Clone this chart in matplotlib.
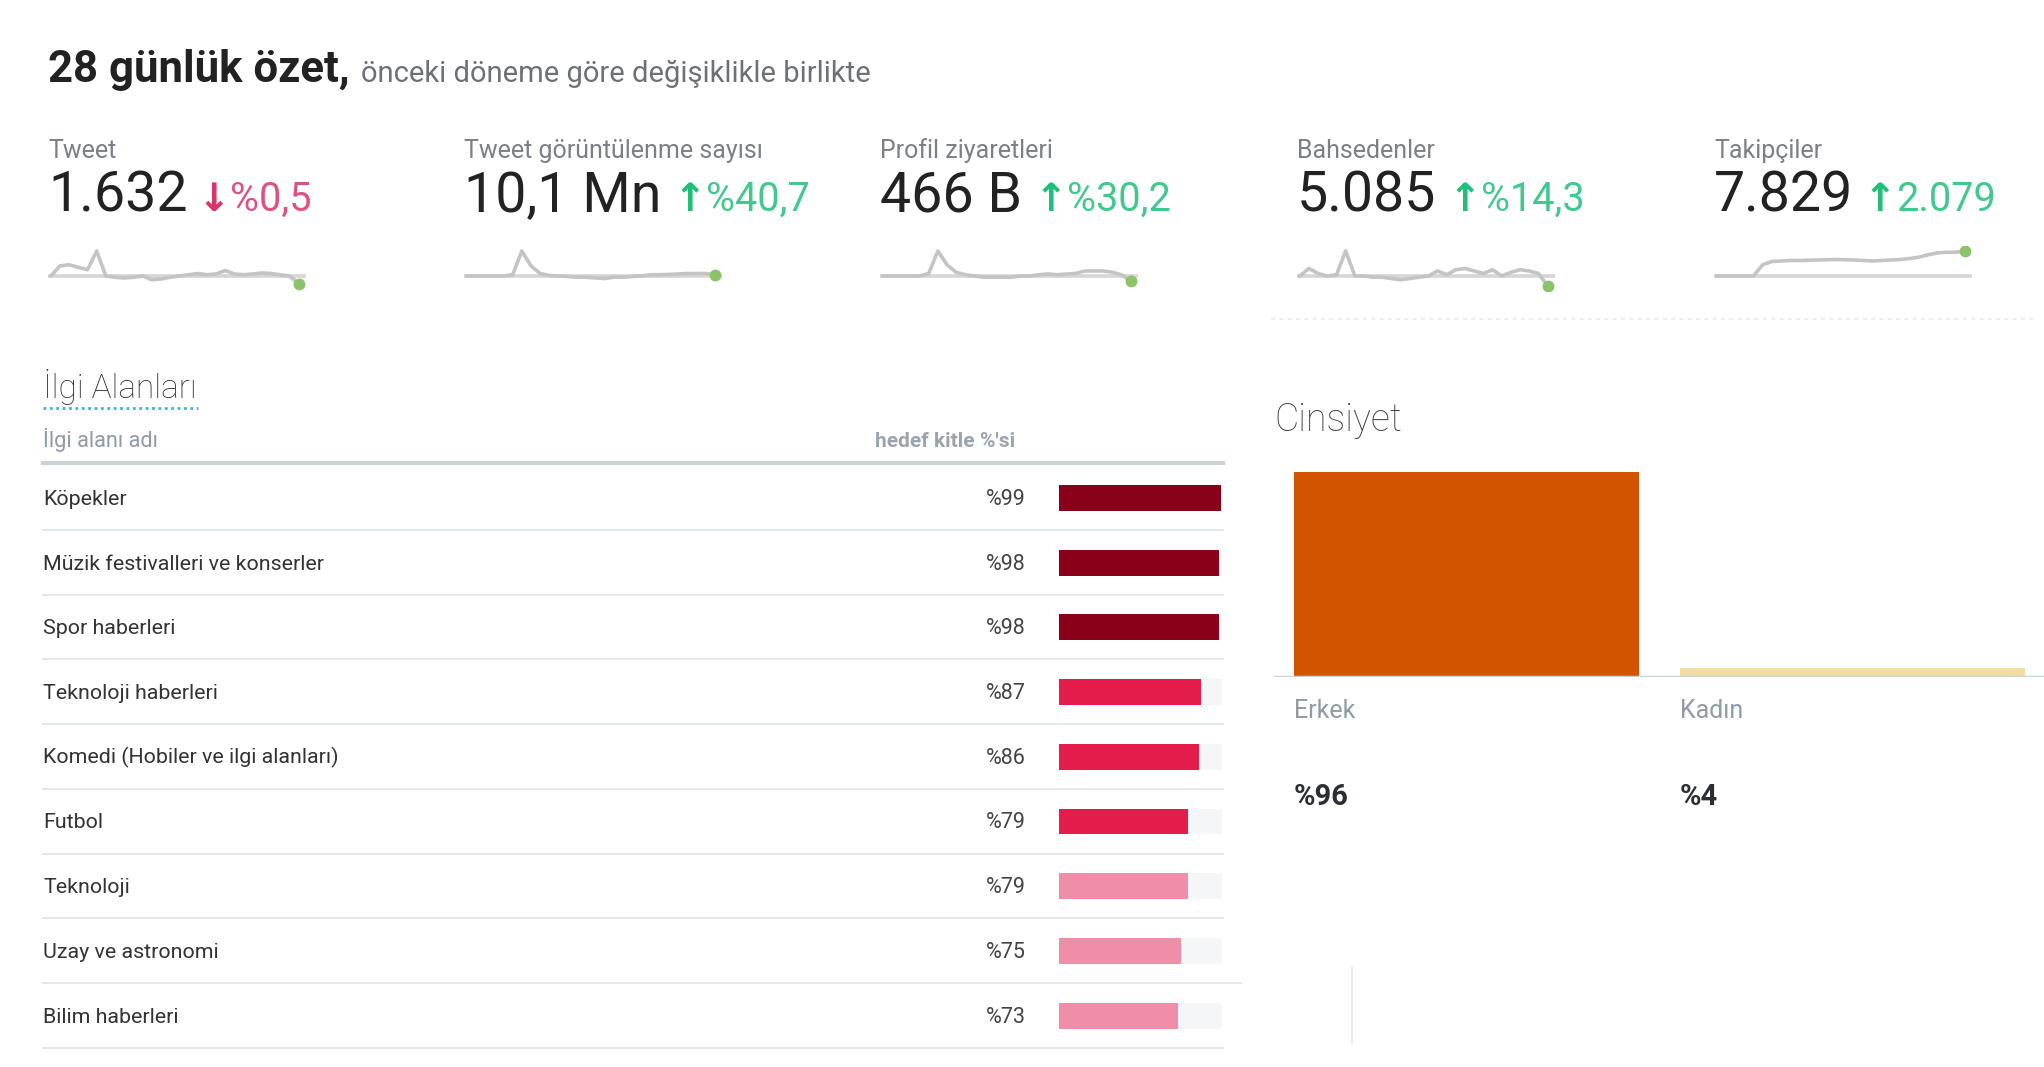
import matplotlib
matplotlib.use("Agg")
from matplotlib import pyplot as plt

# ---- data ----
kpi_labels = ["Tweet", "Tweet görüntülenme sayısı", "Profil ziyaretleri", "Bahsedenler", "Takipçiler"]
kpi_values = ["1.632", "10,1 Mn", "466 B", "5.085", "7.829"]
kpi_deltas = ["%0,5", "%40,7", "%30,2", "%14,3", "2.079"]
kpi_up = [False, True, True, True, True]

spark_tweet = [0.0, 0.4, 0.45, 0.35, 0.25, 1.0, 0.0, -0.05, -0.08, -0.05, 0.0, -0.15, -0.12, -0.05,
               0.0, 0.05, 0.1, 0.05, 0.08, 0.22, 0.08, 0.05, 0.08, 0.12, 0.1, 0.05, 0.0, -0.3]
spark_views = [0.0, 0.0, 0.0, 0.0, 0.0, 0.05, 1.0, 0.4, 0.1, 0.02, 0.0, -0.02, -0.05, -0.05,
               -0.08, -0.1, -0.05, -0.05, -0.02, 0.0, 0.05, 0.05, 0.06, 0.08, 0.1, 0.1, 0.1, 0.05]
spark_profile = [0.0, 0.0, 0.0, 0.0, 0.0, 0.1, 1.0, 0.45, 0.15, 0.05, 0.0, -0.05, -0.05, -0.05,
                 -0.05, 0.0, 0.0, 0.05, 0.08, 0.05, 0.08, 0.1, 0.2, 0.2, 0.2, 0.15, 0.05, -0.2]
spark_mentions = [0.0, 0.3, 0.1, 0.0, 0.05, 1.0, 0.0, 0.0, -0.05, -0.05, -0.1, -0.15, -0.1, -0.05,
                  0.0, 0.2, 0.05, 0.25, 0.3, 0.2, 0.1, 0.25, 0.0, 0.15, 0.25, 0.2, 0.1, -0.4]
spark_followers = [0.0, 0.0, 0.0, 0.0, 0.0, 0.45, 0.58, 0.6, 0.62, 0.62, 0.63, 0.64, 0.65, 0.66,
                   0.65, 0.64, 0.62, 0.6, 0.62, 0.64, 0.66, 0.7, 0.75, 0.85, 0.92, 0.95, 0.95, 1.0]
sparks = [spark_tweet, spark_views, spark_profile, spark_mentions, spark_followers]

interests = ["Köpekler", "Müzik festivalleri ve konserler", "Spor haberleri", "Teknoloji haberleri",
             "Komedi (Hobiler ve ilgi alanları)", "Futbol", "Teknoloji", "Uzay ve astronomi", "Bilim haberleri"]
interest_pct = [99, 98, 98, 87, 86, 79, 79, 75, 73]
interest_colors = ["#8a0018", "#8a0018", "#8a0018", "#e31c4c", "#e31c4c", "#e31c4c",
                   "#f08da8", "#f08da8", "#f08da8"]

genders = ["Erkek", "Kadın"]
gender_pct = [96, 4]
gender_colors = ["#d35400", "#f3dca0"]

# ---- layout (pixel based) ----
W, H = 2044, 1067
FONT = ["Roboto", "DejaVu Sans"]
plt.rcParams["font.family"] = FONT

fig = plt.figure(figsize=(W / 100, H / 100), dpi=100)
fig.patch.set_facecolor("white")


def px_axes(x0, y0, x1, y1):
    return fig.add_axes([x0 / W, 1 - y1 / H, (x1 - x0) / W, (y1 - y0) / H])


bg = px_axes(0, 0, W, H)
bg.set_xlim(0, W)
bg.set_ylim(H, 0)
bg.axis("off")

# header
bg.text(48, 82, "28 günlük özet,", fontsize=31.5, fontweight="bold", color="#222222", va="baseline")
bg.text(361, 82, "önceki döneme göre değişiklikle birlikte", fontsize=21, color="#6b7177", va="baseline")

# kpis
kpi_x = [48, 464, 880, 1297, 1714]
delta_x = [202, 678, 1039, 1453, 1868]
for i in range(5):
    x = kpi_x[i]
    bg.text(x, 158, kpi_labels[i], fontsize=18, color="#7b8087", va="baseline")
    bg.text(x, 212, kpi_values[i], fontsize=40, color="#222222", va="baseline")
    col = "#1fbf7a" if kpi_up[i] else "#d8346a"
    arrow = "↑" if kpi_up[i] else "↓"
    bg.text(delta_x[i] - 4, 211, arrow, fontsize=28, color=col, fontweight="bold",
            va="baseline", family=["DejaVu Sans"])
    bg.text(delta_x[i] + 28, 211, kpi_deltas[i], fontsize=28.5, color=col, alpha=0.85, va="baseline")

    sp = px_axes(x, 246, x + 258, 291)
    n = len(sparks[i])
    sp.axhline(0, color="#d6d6d6", lw=2.6, zorder=1)
    sp.plot(range(n), sparks[i], color="#c4c4c4", lw=2.6, zorder=2)
    sp.plot([n - 1], [sparks[i][-1]], "o", color="#8cc26a", ms=7.5, zorder=3)
    sp.set_xlim(-0.3, n - 0.2)
    sp.set_ylim(-0.6, 1.2)
    sp.axis("off")

bg.plot([1271, 2034], [319, 319], color="#eeeeee", lw=1.5, ls=(0, (2, 2)))

# interests table
bg.text(43, 398, "İlgi Alanları", fontsize=24, fontweight="light", color="#333333", va="baseline")
bg.plot([43, 198], [408, 408], color="#4aaed6", lw=2, ls=(0, (1, 1.3)))
bg.text(43, 447, "İlgi alanı adı", fontsize=15.7, color="#8f9ba5", va="baseline")
bg.text(875, 447, "hedef kitle %'si", fontsize=15, fontweight="bold", color="#9aa4ad", va="baseline")
bg.plot([43, 1223], [463, 463], color="#ccd3d8", lw=3)

row_y0 = 498
row_step = 64.7
for i, name in enumerate(interests):
    cy = row_y0 + i * row_step
    bg.text(43, cy + 7, name, fontsize=15.4, color="#333333", va="baseline")
    bg.text(1026, cy + 7, "%" + str(interest_pct[i]), fontsize=15.5, color="#444444",
            ha="right", va="baseline")
    sep_right = 1241 if i == 7 else 1223
    bg.plot([43, sep_right], [cy + 32, cy + 32], color="#e4e8eb", lw=1.5)

bars = px_axes(1059, row_y0 - row_step / 2, 1223, row_y0 + 8.5 * row_step)
ypos = list(range(len(interests)))
bars.barh(ypos, [100] * len(ypos), height=0.4, color="#f4f6f8")
bars.barh(ypos, interest_pct, height=0.4, color=interest_colors)
bars.set_xlim(0, 100.5)
bars.set_ylim(len(interests) - 0.5, -0.5)
bars.axis("off")

# gender
bg.text(1274, 431, "Cinsiyet", fontsize=27, fontweight="light", color="#444444", va="baseline")
gax = px_axes(1274, 463.5, 2044, 677)
gw = 0.894
gax.bar(range(2), gender_pct, width=gw, color=gender_colors)
gax.set_xlim(-0.4987, 1.496)
gax.set_ylim(0, 100)
gax.axhline(0, color="#c9d3dc", lw=2.5)
gax.axis("off")
for i in range(2):
    gax.text(i - gw / 2, -0.19, genders[i], transform=gax.get_xaxis_transform(),
             fontsize=18, color="#8f9ba5", va="baseline")
    gax.text(i - gw / 2, -0.6, "%" + str(gender_pct[i]), transform=gax.get_xaxis_transform(),
             fontsize=21, fontweight="bold", color="#2b2f33", va="baseline")

bg.plot([1352, 1352], [967, 1043], color="#e8ecef", lw=1.5)

fig.savefig("out.png", dpi=100, facecolor="white")
